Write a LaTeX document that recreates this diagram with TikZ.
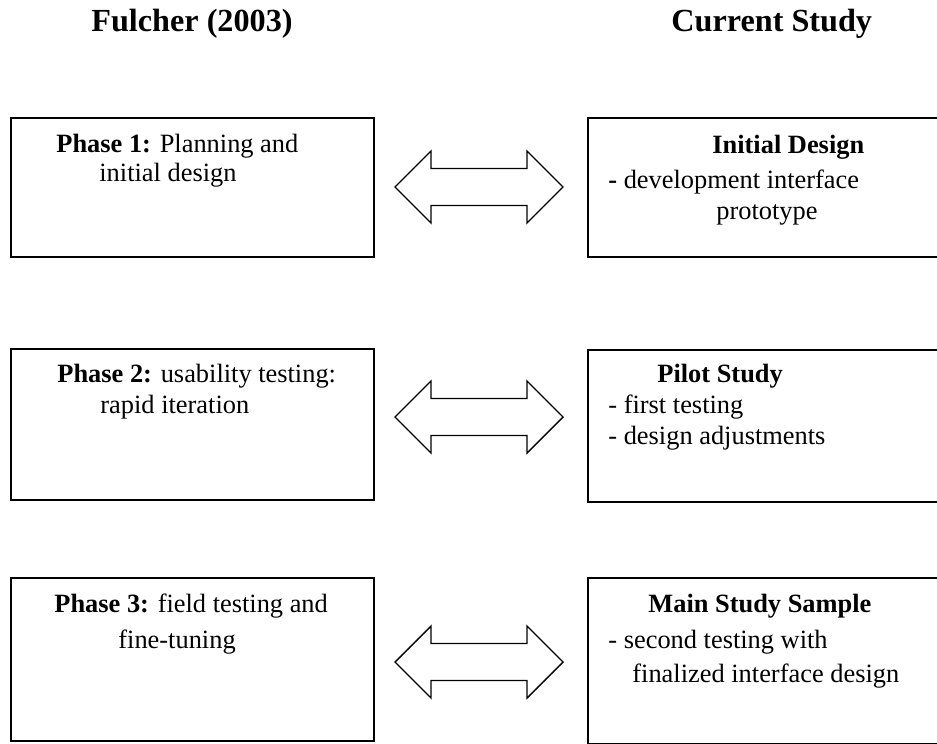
\documentclass[tikz,border=0pt]{standalone}
\usepackage{fontspec}
\setmainfont{Liberation Serif}
\begin{document}
\begin{tikzpicture}[x=0.5pt,y=-0.5pt,
  frame/.style={draw, line width=1.2pt, line join=miter, inner sep=0pt, anchor=north west},
  txt/.style={anchor=base west, inner sep=0pt, font=\fontsize{13.2}{15}\selectfont},
  headline/.style={anchor=base west, inner sep=0pt, font=\fontsize{16.1}{19}\selectfont\bfseries},
  dblarrow/.pic={
    \draw[line width=0.7pt, line join=miter]
      (-84,0) -- ++(36,-36) -- ++(0,17.5) -- ++(96,0) -- ++(0,-17.5)
      -- ++(36,36) -- ++(-36,36) -- ++(0,-17.5) -- ++(-96,0) -- ++(0,17.5) -- cycle;
  }]
\useasboundingbox (0,0) rectangle (937,744);
\clip (0,0) rectangle (937,744);

% column headings
\node[headline] (hL) at (91,32) {Fulcher (2003)};
\node[headline] (hR) at (671,32) {Current Study};

% left column: Fulcher's phases
\node[frame, minimum width=181.5pt, minimum height=69.5pt] (L1) at (10,117) {};
\node[frame, minimum width=181.5pt, minimum height=75.5pt] (L2) at (10,348) {};
\node[frame, minimum width=181.5pt, minimum height=81.5pt] (L3) at (10,577) {};

% right column: current study (boxes run past the right edge)
\node[frame, minimum width=186.5pt, minimum height=69.5pt] (R1) at (587,117) {};
\node[frame, minimum width=186.5pt, minimum height=76pt] (R2) at (587,349) {};
\node[frame, minimum width=186.5pt, minimum height=83pt] (R3) at (587,577) {};

% two-headed block arrows between the columns
\coordinate (a1) at (479,187);
\coordinate (a2) at (479,417);
\coordinate (a3) at (479,662);
\pic at (a1) {dblarrow};
\pic at (a2) {dblarrow};
\pic at (a3) {dblarrow};

% box texts
\node[txt] (t11) at (56,152) {\textbf{Phase 1:} Planning and};
\node[txt] (t12) at (99,181) {initial design};
\node[txt] (r11) at (712,153) {\textbf{Initial Design}};
\node[txt] (r12) at (608,188) {\textbf{-} development interface};
\node[txt] (r13) at (716,219) {prototype};

\node[txt] (t21) at (57,382) {\textbf{Phase 2:} usability testing:};
\node[txt] (t22) at (100,413) {rapid iteration};
\node[txt] (r21) at (657,382) {\textbf{Pilot Study}};
\node[txt] (r22) at (608,413) {- first testing};
\node[txt] (r23) at (608,444) {- design adjustments};

\node[txt] (t31) at (54,612) {\textbf{Phase 3:} field testing and};
\node[txt] (t32) at (118,648) {fine-tuning};
\node[txt] (r31) at (648,612) {\textbf{Main Study Sample}};
\node[txt] (r32) at (608,648) {- second testing with};
\node[txt] (r33) at (632,682) {finalized interface design};
\end{tikzpicture}
\end{document}
